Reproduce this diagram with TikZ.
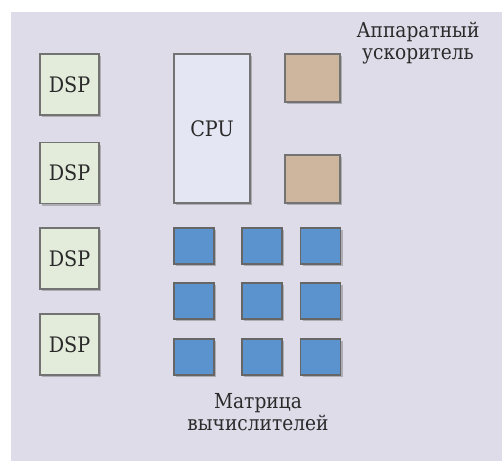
\documentclass[tikz,border=0pt]{standalone}
\usepackage{fontspec}
\setmainfont{DejaVu Serif Condensed}
\usetikzlibrary{shadows}

\definecolor{bgcol}{HTML}{DFDCE9}
\definecolor{dspcol}{HTML}{E3EBDB}
\definecolor{cpucol}{HTML}{E4E7F3}
\definecolor{acccol}{HTML}{CDB59E}
\definecolor{pecol}{HTML}{5B93CF}
\definecolor{txtcol}{HTML}{2A2A2A}

\begin{document}
\begin{tikzpicture}[x=0.75pt,y=-0.75pt]
        \tikzstyle{block} = [draw=black!55, line width=0.8pt, inner sep=0pt,
            drop shadow={shadow xshift=1.5pt, shadow yshift=-1.5pt, opacity=0.5},
            text=txtcol, font=\fontsize{16}{17}\selectfont]
        \tikzstyle{dsp} = [block, fill=dspcol, minimum width=44.25pt, minimum height=45.75pt]
        \tikzstyle{acc} = [block, fill=acccol, minimum width=41.25pt, minimum height=36pt]
        \tikzstyle{pe} = [block, fill=pecol, draw=black!60, minimum width=30pt, minimum height=27pt]
        \tikzstyle{label} = [align=center, text=txtcol, font=\fontsize{15.5}{17}\selectfont]

        % background
        \fill [bgcol] (11,12) rectangle (502,461);
        \useasboundingbox (0,0) rectangle (503,461);

        \node [dsp] (dsp1) at (69.5,84.5) {DSP};
        \node [dsp] (dsp2) at (69.5,173) {DSP};
        \node [dsp] (dsp3) at (69.5,258.5) {DSP};
        \node [dsp] (dsp4) at (69.5,344.5) {DSP};

        \node [block, fill=cpucol, minimum width=57pt, minimum height=111.75pt] (cpu) at (212,128.5) {CPU};

        \node [acc] (acc1) at (312.5,78) {};
        \node [acc] (acc2) at (312.5,179) {};
        \node [label] (acclabel) at (418,43) {Аппаратный\\ускоритель};

        % matrix of processing elements
        \node [pe] (pe11) at (194,246) {};
        \node [pe] (pe12) at (262,246) {};
        \node [pe] (pe13) at (320.5,246) {};
        \node [pe] (pe21) at (194,301) {};
        \node [pe] (pe22) at (262,301) {};
        \node [pe] (pe23) at (320.5,301) {};
        \node [pe] (pe31) at (194,357) {};
        \node [pe] (pe32) at (262,357) {};
        \node [pe] (pe33) at (320.5,357) {};
        \node [label] (pelabel) at (258,412) {Матрица\\вычислителей};
    \end{tikzpicture}
\end{document}
